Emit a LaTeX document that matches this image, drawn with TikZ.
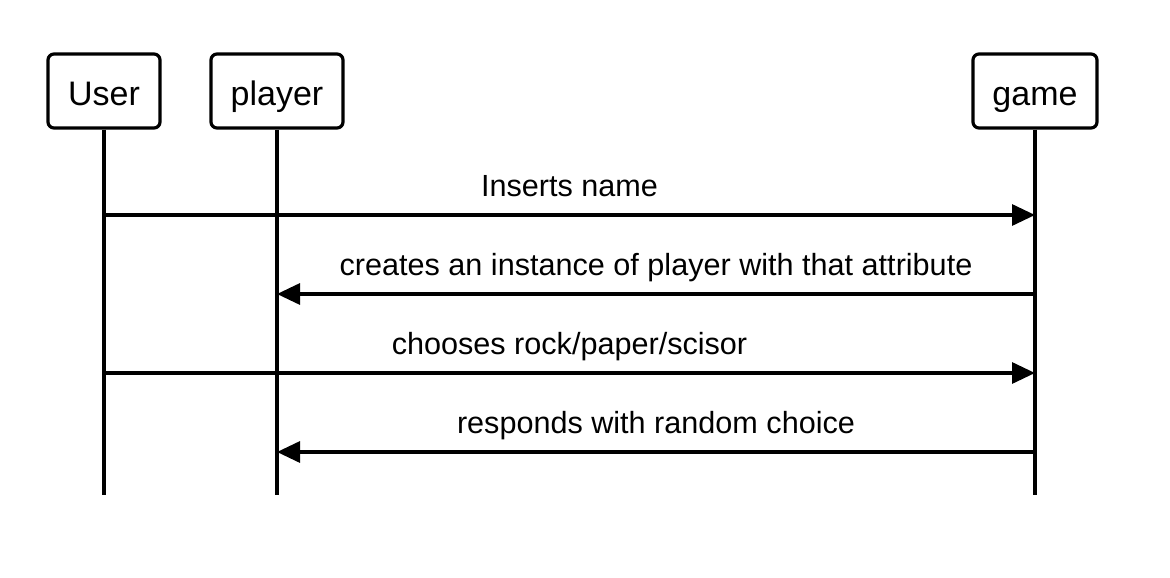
\documentclass[tikz,border=0pt]{standalone}
\usepackage{fontspec}
\setmainfont{Liberation Sans}
\usetikzlibrary{arrows.meta}
\begin{document}
\begin{tikzpicture}[x=1pt,y=-1pt,
  actor/.style={draw,line width=3.2pt,rounded corners=6pt,minimum height=74pt,inner sep=0pt,text height=28pt,text depth=0pt,font=\fontsize{34}{40}\selectfont},
  life/.style={line width=3.2pt},
  msg/.style={line width=3.2pt,-{Triangle[length=23pt,width=21pt]}},
  lbl/.style={font=\fontsize{30.6}{36}\selectfont,anchor=base,inner sep=0pt,yshift=19pt}]
\useasboundingbox (0,0) rectangle (1170,578);
\node[actor,minimum width=112pt] (user) at (104,91) {User};
\node[actor,minimum width=132pt] (player) at (277,91) {player};
\node[actor,minimum width=124pt] (game) at (1035,91) {game};
\coordinate (userend) at (104,495);
\coordinate (playerend) at (277,495);
\coordinate (gameend) at (1035,495);
\draw[life] (user) -- (userend);
\draw[life] (player) -- (playerend);
\draw[life] (game) -- (gameend);
\coordinate (u1) at (104,215);
\coordinate (g1) at (1035,215);
\coordinate (g2) at (1035,294);
\coordinate (p2) at (277,294);
\coordinate (u3) at (104,373);
\coordinate (g3) at (1035,373);
\coordinate (g4) at (1035,452);
\coordinate (p4) at (277,452);
\draw[msg] (u1) -- node[lbl]{Inserts name} (g1);
\draw[msg] (g2) -- node[lbl]{creates an instance of player with that attribute} (p2);
\draw[msg] (u3) -- node[lbl]{chooses rock/paper/scisor} (g3);
\draw[msg] (g4) -- node[lbl]{responds with random choice} (p4);
\end{tikzpicture}
\end{document}
